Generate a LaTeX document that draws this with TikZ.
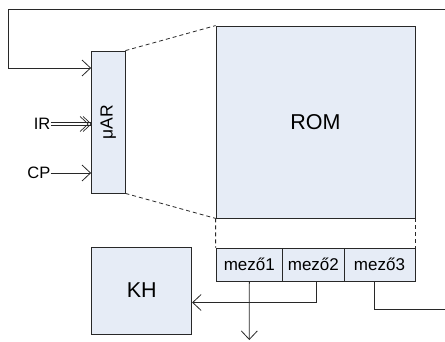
\documentclass[tikz,border=0pt]{standalone}
\usepackage{fontspec}
\setmainfont{Liberation Sans}
\usetikzlibrary{arrows.meta}
\definecolor{boxfill}{RGB}{230,236,246}
\definecolor{linec}{RGB}{40,40,40}
\tikzset{
  box/.style={draw=linec, fill=boxfill, line width=0.8pt, inner sep=0pt},
  conn/.style={draw=linec, line width=0.8pt},
  arr/.style={conn, -{Straight Barb[length=8.5pt,width=16pt]}},
  dsh/.style={conn, dash pattern=on 4pt off 3pt},
  lbl/.style={inner sep=0pt, font=\fontsize{16.5}{18}\selectfont},
}
\begin{document}
\begin{tikzpicture}[x=1pt,y=-1pt]
\useasboundingbox (0,0) rectangle (445,342);
% boxes
\node[box, minimum width=33.5pt, minimum height=142pt] (mar) at (108.25,122)
  {\rotatebox{90}{\fontsize{17.5}{19}\selectfont μAR}};
\node[box, minimum width=199pt, minimum height=192pt,
  font=\fontsize{21.5}{24}\selectfont] (rom) at (315.5,122) {ROM};
\node[box, minimum width=66.7pt, minimum height=33pt,
  font=\fontsize{17}{19}\selectfont] (m1) at (249.35,264.5) {mező1};
\node[box, minimum width=61.3pt, minimum height=33pt,
  font=\fontsize{17}{19}\selectfont] (m2) at (313.35,264.5) {mező2};
\node[box, minimum width=71pt, minimum height=33pt,
  font=\fontsize{17}{19}\selectfont] (m3) at (379.5,264.5) {mező3};
\node[box, minimum width=100pt, minimum height=87pt,
  font=\fontsize{21.5}{24}\selectfont] (kh) at (141.7,290.5) {KH};
% labels
\node[lbl, anchor=east] (ir) at (50.5,124) {IR};
\node[lbl, anchor=east] (cp) at (50.5,173) {CP};
% coordinates
\coordinate (fbs) at (445,9.5);
\coordinate (fb1) at (8,9.5);
\coordinate (fb2) at (8,68);
\coordinate (o1) at (249.3,340);
\coordinate (k2) at (316,302.5);
\coordinate (k3) at (374,309);
\coordinate (e3) at (445,309);
% dashed projection
\draw[dsh] (mar.north east) -- (rom.north west);
\draw[dsh] (mar.south east) -- (rom.south west);
\draw[dsh] (rom.south west) -- (m1.north west);
\draw[dsh] (rom.south east) -- (m3.north east);
% feedback
\draw[arr] (fbs) -- (fb1) -- (fb2) -- (mar.west |- fb2);
% IR double line
\draw[conn, double=white, double distance=2pt, line width=0.6pt] (ir.east) -- (ir.east -| mar.west);
\coordinate (irt) at (ir.east -| mar.west);
\draw[conn, line width=0.7pt] ([shift={(-8pt,-7.5pt)}]irt) -- (irt) -- ([shift={(-8pt,7.5pt)}]irt);
\draw[conn, line width=0.7pt] ([shift={(-11pt,-7.5pt)}]irt) -- ([xshift=-3pt]irt) -- ([shift={(-11pt,7.5pt)}]irt);
% CP
\draw[arr] (cp.east) -- (cp.east -| mar.west);
% fields
\draw[arr] (m1.south) -- (o1);
\draw[arr] (m2.south -| k2) -- (k2) -- (kh.east |- k2);
\draw[conn] (m3.south -| k3) -- (k3) -- (e3);
\end{tikzpicture}
\end{document}
